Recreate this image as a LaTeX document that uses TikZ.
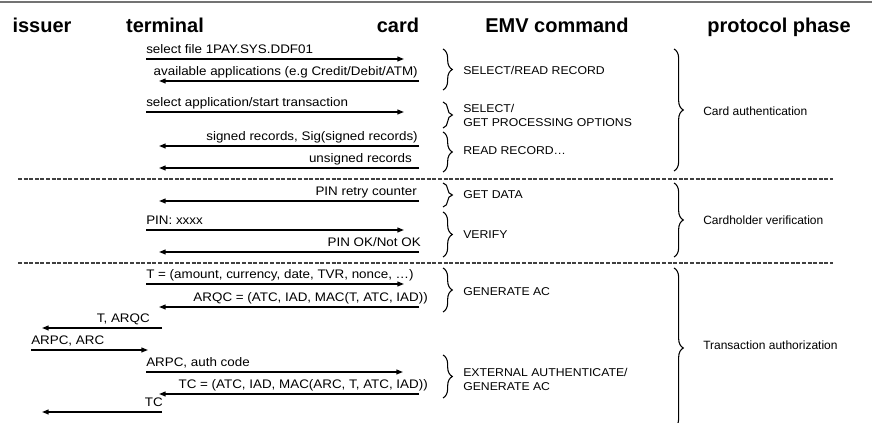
\documentclass[tikz,border=0pt]{standalone}
\usepackage{fontspec}
\setmainfont{Liberation Sans}
\newfontfamily\msgfont{Liberation Sans}[FakeStretch=1.08]
\usetikzlibrary{arrows.meta,decorations.pathreplacing}
\tikzstyle{msg}=[line width=1.1pt, -{Triangle[length=5pt,width=3.6pt]}]
\tikzstyle{lbl}=[inner sep=0pt, font=\msgfont\fontsize{9.3}{10}\selectfont]
\tikzstyle{head}=[inner sep=0pt, anchor=base, font=\fontsize{15}{18}\selectfont\bfseries]
\tikzstyle{cmd}=[inner sep=0pt, anchor=west, align=left, font=\msgfont\fontsize{8.5}{10.5}\selectfont]
\tikzstyle{phase}=[inner sep=0pt, anchor=west, font=\fontsize{9}{10}\selectfont]
\tikzstyle{brc}=[decorate, decoration={brace, amplitude=7pt}, line width=0.8pt]
\tikzstyle{sep}=[draw=black!75, line width=1.1pt, dash pattern=on 3pt off 1.2pt]
% name, y, x from, x to, label x, label anchor, text
\newcommand{\msg}[7]
{
  \coordinate (#1a) at (#3,#2);
  \coordinate (#1b) at (#4,#2);
  \draw[msg] (#1a) -- (#1b);
  \node[lbl, anchor=base #6] (#1t) at (#5,#2-5) {#7};
}
\newcommand{\cmdbrace}[4]
{
  \coordinate (#1a) at (#2,#3);
  \coordinate (#1b) at (#2,#4);
  \draw[brc] (#1a) -- (#1b);
}

\begin{document}
\begin{tikzpicture}[x=0.75pt, y=-0.75pt]
	\useasboundingbox (0,0) rectangle (872,423);
	\clip (0,0) rectangle (872,423);

	\coordinate (topl) at (0,2.5);
	\coordinate (topr) at (872,2.5);
	\draw[black!55, line width=1.5pt] (topl) -- (topr);

	\node[head] (issuer) at (42,33) {issuer};
	\node[head] (terminal) at (165,33) {terminal};
	\node[head] (card) at (398,33) {card};
	\node[head] (emv) at (557,33) {EMV command};
	\node[head] (phase) at (779,33) {protocol phase};

	% card authentication
	\msg{m1}{59}{146}{404}{146}{west}{select file 1PAY.SYS.DDF01}
	\msg{m2}{81}{419}{159}{418}{east}{available applications (e.g Credit/Debit/ATM)}
	\msg{m3}{112}{146}{404}{146}{west}{select application/start transaction}
	\msg{m4}{146}{419}{159}{418}{east}{signed records, Sig(signed records)}
	\msg{m5}{168}{419}{159}{412}{east}{unsigned records}

	\coordinate (sep1a) at (18,179);
	\coordinate (sep1b) at (833,179);
	\draw[sep] (sep1a) -- (sep1b);

	% cardholder verification
	\msg{m6}{201}{419}{159}{417}{east}{PIN retry counter}
	\msg{m7}{230}{146}{404}{146}{west}{PIN: xxxx}
	\msg{m8}{252}{419}{159}{421}{east}{PIN OK/Not OK}

	\coordinate (sep2a) at (18,263);
	\coordinate (sep2b) at (833,263);
	\draw[sep] (sep2a) -- (sep2b);

	% transaction authorization
	\msg{m9}{284}{146}{404}{146}{west}{T = (amount, currency, date, TVR, nonce, …)}
	\msg{m10}{307}{419}{159}{428}{east}{ARQC = (ATC, IAD, MAC(T, ATC, IAD))}
	\msg{m11}{328}{162}{42}{150}{east}{T, ARQC}
	\msg{m12}{350}{31}{148}{31}{west}{ARPC, ARC}
	\msg{m13}{372}{146}{403}{146}{west}{ARPC, auth code}
	\msg{m14}{394}{419}{159}{428}{east}{TC = (ATC, IAD, MAC(ARC, T, ATC, IAD))}
	\msg{m15}{412}{162}{42}{163}{east}{TC}

	% EMV commands
	\cmdbrace{b1}{443}{49}{90}
	\cmdbrace{b2}{443}{102}{128}
	\cmdbrace{b3}{443}{132}{172}
	\cmdbrace{b4}{443}{183}{207}
	\cmdbrace{b5}{443}{212}{257}
	\cmdbrace{b6}{443}{268}{312}
	\cmdbrace{b7}{443}{355}{398}
	\node[cmd] (c1) at (463,70) {SELECT/READ RECORD};
	\node[cmd] (c2) at (463,115) {SELECT/\\GET PROCESSING OPTIONS};
	\node[cmd] (c3) at (463,151) {READ RECORD…};
	\node[cmd] (c4) at (463,195) {GET DATA};
	\node[cmd] (c5) at (463,235) {VERIFY};
	\node[cmd] (c6) at (463,292) {GENERATE AC};
	\node[cmd] (c7) at (463,379) {EXTERNAL AUTHENTICATE/\\GENERATE AC};

	% protocol phases
	\cmdbrace{p1}{674}{49}{171}
	\cmdbrace{p2}{674}{183}{257}
	\cmdbrace{p3}{674}{268}{428}
	\node[phase] (ph1) at (703,111) {Card authentication};
	\node[phase] (ph2) at (703,220) {Cardholder verification};
	\node[phase] (ph3) at (703,345) {Transaction authorization};

\end{tikzpicture}
\end{document}
